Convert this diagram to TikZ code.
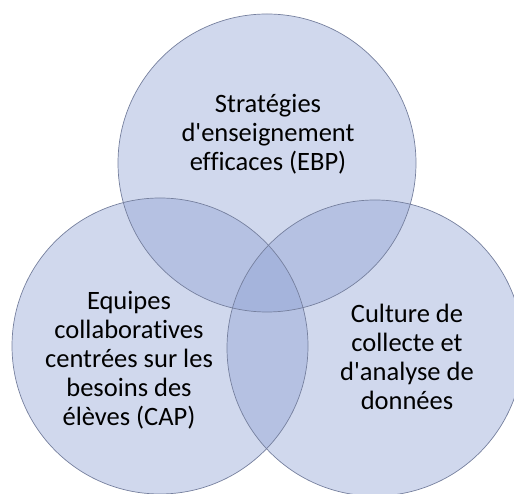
\documentclass[tikz,border=0pt]{standalone}
\usepackage{fontspec}
% straight apostrophes and no f-ligatures, as in office text
\setmainfont{Carlito}[Ligatures={TeXOff,NoCommon}]
\begin{document}
\begin{tikzpicture}[x=1pt,y=1pt,
  vennfill/.style={fill={rgb,255:red,143;green,162;blue,212}, fill opacity=0.42, draw=none},
  vennline/.style={draw={rgb,255:red,118;green,128;blue,158}, line width=0.7pt},
  venntext/.style={align=center, text=black, inner sep=0pt,
    font=\fontsize{26.5}{29}\selectfont}]
  \useasboundingbox (0,0) rectangle (514,494);
  % circle centres
  \coordinate (ctop) at (267,331);
  \coordinate (cleft) at (160,148);
  \coordinate (cright) at (375,146);
  % translucent discs
  \fill[vennfill] (ctop) circle[radius=149];
  \fill[vennfill] (cleft) circle[radius=148];
  \fill[vennfill] (cright) circle[radius=148];
  % outlines
  \draw[vennline] (ctop) circle[radius=149];
  \draw[vennline] (cleft) circle[radius=148];
  \draw[vennline] (cright) circle[radius=148];
  % labels
  \node[venntext] (ebp) at (268,360) {Stratégies\\d'enseignement\\efficaces (EBP)};
  \node[venntext] (cap) at (129,134) {Equipes\\collaboratives\\centrées sur les\\besoins des\\élèves (CAP)};
  \node[venntext] (data) at (407,137) {Culture de\\collecte et\\d'analyse de\\données};
\end{tikzpicture}
\end{document}
